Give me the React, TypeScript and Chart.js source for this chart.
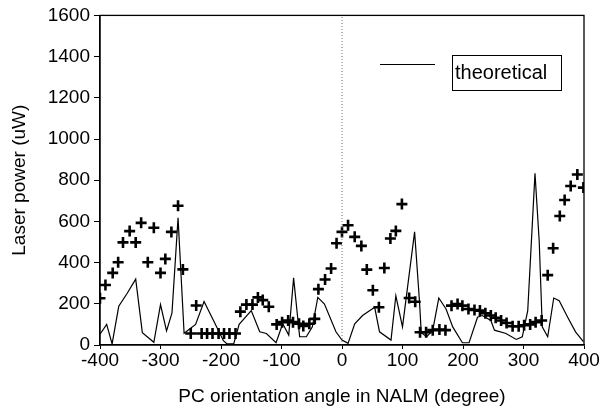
import React, { useEffect, useRef } from "react";
import { Chart, registerables } from "chart.js";

Chart.register(...registerables);

// Measured points (crosses)
const expX = [-400, -391, -379, -370, -362, -351, -341, -332, -321, -311, -300, -292, -282, -271, -263, -250, -241, -232, -223, -214, -204, -195, -186, -176, -168, -158, -148, -139, -131, -121, -108, -99, -89, -81, -71, -64, -54, -45, -39, -28, -18, -9, 0, 10, 21, 32, 41, 51, 61, 70, 80, 89, 99, 111, 121, 129, 139, 150, 161, 171, 181, 191, 199, 209, 219, 228, 237, 246, 254, 263, 272, 282, 292, 301, 311, 320, 330, 340, 349, 360, 368, 378, 389, 399];
const expY = [227, 291, 350, 402, 498, 553, 498, 593, 402, 569, 350, 418, 549, 676, 367, 56, 192, 56, 56, 56, 56, 56, 56, 56, 162, 196, 196, 231, 218, 186, 100, 111, 119, 111, 103, 92, 103, 127, 271, 318, 371, 494, 549, 581, 525, 481, 366, 266, 183, 374, 517, 554, 684, 228, 210, 62, 62, 72, 75, 72, 191, 199, 191, 175, 170, 167, 154, 143, 132, 119, 107, 91, 91, 96, 100, 111, 119, 339, 470, 626, 704, 772, 828, 764];

// Theoretical curve
const thX = [-400, -389, -380, -369, -355, -341, -330, -311, -300, -290, -281, -271, -261, -242, -228, -212, -196, -190, -179, -170, -150, -136, -125, -109, -98, -88, -80, -70, -59, -49, -40, -29, -10, 0, 10, 21, 34, 54, 62, 81, 89, 100, 120, 128, 131, 140, 150, 160, 172, 183, 199, 210, 224, 232, 246, 252, 271, 288, 298, 307, 319, 326, 331, 340, 350, 359, 373, 386, 399];
const thY = [52, 100, 5, 188, 251, 320, 60, 13, 196, 68, 156, 617, 57, 100, 211, 116, 21, 5, 5, 100, 167, 64, 56, 11, 103, 48, 326, 40, 40, 88, 231, 199, 64, 24, 8, 103, 143, 183, 64, 24, 239, 88, 549, 215, 60, 40, 72, 228, 175, 88, 11, 11, 135, 143, 119, 72, 56, 27, 40, 167, 833, 501, 88, 40, 228, 215, 135, 64, 16];

// Vertical dotted reference at 0
const zeroX = [0, 0];
const zeroY = [0, 1600];

const xTitle = "PC orientation angle in NALM (degree)";
const yTitle = "Laser power (uW)";
const legendLabel = "theoretical";

const FONT = "'Liberation Sans', Arial, Helvetica, sans-serif";

const framePlugin = {
  id: "frame",
  afterDatasetsDraw(chart: any) {
    const { ctx, chartArea } = chart;
    ctx.save();
    ctx.strokeStyle = "#000";
    ctx.lineWidth = 1.3;
    ctx.strokeRect(chartArea.left, chartArea.top, chartArea.right - chartArea.left, chartArea.bottom - chartArea.top);
    // legend
    ctx.lineWidth = 1.2;
    ctx.beginPath();
    ctx.moveTo(380, 64.5);
    ctx.lineTo(435, 64.5);
    ctx.stroke();
    ctx.lineWidth = 1;
    ctx.strokeRect(452.5, 55.5, 109, 35);
    ctx.fillStyle = "#000";
    ctx.font = `20px ${FONT}`;
    ctx.textBaseline = "middle";
    ctx.textAlign = "left";
    ctx.fillText(legendLabel, 455, 73);
    ctx.restore();
  },
};

export default function App() {
  const ref = useRef<HTMLCanvasElement | null>(null);
  useEffect(() => {
    if (!ref.current) return;
    const chart = new Chart(ref.current, {
      type: "scatter",
      data: {
        datasets: [
          {
            label: "zero",
            data: zeroX.map((x, i) => ({ x, y: zeroY[i] })),
            showLine: true,
            borderColor: "#777",
            borderWidth: 1,
            borderDash: [1, 2],
            pointRadius: 0,
          },
          {
            label: legendLabel,
            data: thX.map((x, i) => ({ x, y: thY[i] })),
            showLine: true,
            borderColor: "#000",
            borderWidth: 1.2,
            pointRadius: 0,
            tension: 0,
          },
          {
            label: "measured",
            data: expX.map((x, i) => ({ x, y: expY[i] })),
            showLine: false,
            pointStyle: "cross",
            pointRadius: 5.5,
            borderColor: "#000",
            borderWidth: 2.6,
          },
        ],
      },
      options: {
        animation: false,
        responsive: false,
        maintainAspectRatio: false,
        layout: { padding: { top: 9, right: 21, left: 0, bottom: 0 } },
        plugins: { legend: { display: false }, tooltip: { enabled: false } },
        scales: {
          x: {
            type: "linear",
            min: -400,
            max: 400,
            afterFit(scale: any) {
              scale.height = 63;
            },
            ticks: {
              stepSize: 100,
              color: "#000",
              font: { family: FONT, size: 19 },
              padding: 0,
              maxRotation: 0,
              callback: (v: any) => String(v),
            },
            grid: { drawOnChartArea: false, drawTicks: true, tickLength: 4, color: "#000" },
            border: { color: "#000", width: 1.3 },
            title: { display: true, text: xTitle, color: "#000", font: { family: FONT, size: 19 }, padding: { top: 11, bottom: 0 } },
          },
          y: {
            min: 0,
            max: 1600,
            afterFit(scale: any) {
              scale.width = 100;
            },
            ticks: {
              stepSize: 200,
              color: "#000",
              font: { family: FONT, size: 19 },
              padding: 4,
              callback: (v: any) => String(v),
            },
            grid: { drawOnChartArea: false, drawTicks: true, tickLength: 6, color: "#000" },
            border: { color: "#000", width: 1.3 },
            title: { display: true, text: yTitle, color: "#000", font: { family: FONT, size: 19 }, padding: { top: 8, bottom: 0 } },
          },
        },
      },
      plugins: [framePlugin],
    });
    return () => chart.destroy();
  }, []);
  return (
    <div style={{ position: "fixed", left: 0, top: 0, width: 605, height: 408, background: "#fff" }}>
      <canvas ref={ref} width={605} height={408} style={{ width: 605, height: 408 }} />
    </div>
  );
}
